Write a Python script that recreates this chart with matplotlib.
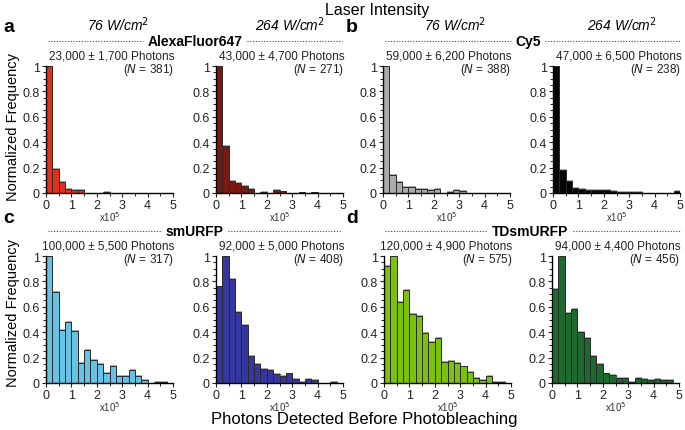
import numpy as np
import matplotlib
matplotlib.use("Agg")
import matplotlib.pyplot as plt
import matplotlib.patheffects as pe
from matplotlib.ticker import MultipleLocator
from matplotlib.lines import Line2D

plt.rcParams['font.family'] = ['Liberation Sans', 'DejaVu Sans']

# Histogramm-Daten (Bins 0.25 x10^5 breit, 0..5)
bin_kanten = np.arange(0, 5.01, 0.25)

alexa_76 = [1.0, 0.19, 0.085, 0.03, 0.02, 0.02, 0, 0, 0, 0.01, 0, 0, 0, 0, 0, 0, 0, 0, 0, 0]
alexa_264 = [1.0, 0.37, 0.095, 0.08, 0.055, 0.03, 0, 0.01, 0, 0.02, 0.012, 0, 0, 0.004, 0, 0.004, 0, 0, 0, 0]
cy5_76 = [1.0, 0.14, 0.085, 0.045, 0.045, 0.035, 0.03, 0.025, 0.028, 0, 0.008, 0.022, 0.015, 0, 0, 0, 0, 0, 0, 0]
cy5_264 = [1.0, 0.18, 0.095, 0.04, 0.03, 0.02, 0.02, 0.02, 0.022, 0.015, 0.01, 0.005, 0.005, 0.005, 0.003, 0.003, 0.003, 0.003, 0.003, 0.013]
smurfp_76 = [1.0, 0.72, 0.42, 0.48, 0.41, 0.16, 0.26, 0.18, 0.15, 0.08, 0.135, 0.055, 0.055, 0.105, 0.055, 0.02, 0, 0.01, 0.01, 0]
smurfp_264 = [0.76, 1.0, 0.82, 0.56, 0.46, 0.21, 0.15, 0.11, 0.10, 0.07, 0.055, 0.075, 0.03, 0.01, 0.03, 0.02, 0, 0, 0.01, 0]
tdsmurfp_76 = [0.92, 1.0, 0.64, 0.73, 0.54, 0.53, 0.39, 0.32, 0.355, 0.165, 0.175, 0.155, 0.13, 0.09, 0.04, 0.025, 0.055, 0.01, 0.01, 0]
tdsmurfp_264 = [0.74, 1.0, 0.55, 0.585, 0.40, 0.355, 0.21, 0.15, 0.075, 0.06, 0.04, 0.04, 0.01, 0.04, 0.03, 0.025, 0.03, 0.02, 0.02, 0]

photonen_text = ["23,000 ± 1,700 Photons", "43,000 ± 4,700 Photons",
                 "59,000 ± 6,200 Photons", "47,000 ± 6,500 Photons",
                 "100,000 ± 5,500 Photons", "92,000 ± 5,000 Photons",
                 "120,000 ± 4,900 Photons", "94,000 ± 4,400 Photons"]
n_werte = [381, 271, 388, 238, 317, 408, 575, 456]
farben = ["#E2301C", "#7A1812", "#ABABAB", "#050505",
          "#66C3E6", "#3536A0", "#7CC20C", "#1C6A2E"]
daten = [alexa_76, alexa_264, cy5_76, cy5_264, smurfp_76, smurfp_264, tdsmurfp_76, tdsmurfp_264]

W, H = 685, 431
fig = plt.figure(figsize=(6.85, 4.31), dpi=100)

# Achsenpositionen in Pixeln (links, oben)
links_px = [46, 216, 383, 553, 46, 216, 384, 552]
oben_px = [67, 67, 67, 67, 257, 257, 257, 257]
breite_px, hoehe_px = 127, 127

schatten = [pe.SimplePatchShadow(offset=(0.7, 0.7), shadow_rgbFace="#999999", alpha=0.8), pe.Normal()]

for i in range(8):
    ax = fig.add_axes([links_px[i] / W, 1 - (oben_px[i] + hoehe_px) / H, breite_px / W, hoehe_px / H])
    balken = ax.bar(bin_kanten[:-1], daten[i], width=0.25, align="edge", color=farben[i],
                    edgecolor="#2a2a2a", linewidth=0.7)
    for b in balken:
        b.set_path_effects(schatten)
    ax.set_xlim(0, 5)
    ax.set_ylim(0, 1)
    ax.spines["top"].set_visible(False)
    ax.spines["right"].set_visible(False)
    ax.spines["left"].set_linewidth(1.0)
    ax.spines["bottom"].set_linewidth(1.0)
    ax.set_xticks([0, 1, 2, 3, 4, 5])
    ax.set_yticks([0, 0.2, 0.4, 0.6, 0.8, 1])
    ax.set_yticklabels(["0", "0.2", "0.4", "0.6", "0.8", "1"])
    ax.yaxis.set_minor_locator(MultipleLocator(0.05))
    ax.xaxis.set_minor_locator(MultipleLocator(0.5))
    ax.tick_params(axis="both", which="major", labelsize=9, length=3, width=0.8, pad=1.5, colors="#222")
    ax.tick_params(axis="both", which="minor", length=2, width=0.6)
    ax.text(0.5, -0.18, "x10$^5$", transform=ax.transAxes, ha="center", va="center", fontsize=7, color="#333")
    ax.text(1.01, 1.085, photonen_text[i], transform=ax.transAxes, ha="right", va="center", fontsize=8.5, color="#222")
    ax.text(1.01, 0.98, "($N$ = %d)" % n_werte[i], transform=ax.transAxes, ha="right", va="center", fontsize=8.5, color="#222")


def fig_text(x, y, s, **kw):
    fig.text(x / W, 1 - y / H, s, **kw)


def gruppen_kopf(x0, x1, xm, y, name, halbbreite):
    fig_text(xm, y, name, ha="center", va="center", fontsize=10, fontweight="bold")
    for a, b in [(x0, xm - halbbreite), (xm + halbbreite, x1)]:
        fig.add_artist(Line2D([a / W, b / W], [1 - y / H, 1 - y / H], linestyle=(0, (1, 1.5)),
                              color="#444", linewidth=0.8))


fig_text(377, 10, "Laser Intensity", ha="center", va="center", fontsize=11.5)
fig_text(118, 25, "76 W/cm$^2$", ha="center", va="center", fontsize=10, style="italic")
fig_text(290, 25, "264 W/cm$^2$", ha="center", va="center", fontsize=10, style="italic")
fig_text(455, 25, "76 W/cm$^2$", ha="center", va="center", fontsize=10, style="italic")
fig_text(622, 25, "264 W/cm$^2$", ha="center", va="center", fontsize=10, style="italic")

gruppen_kopf(48, 342, 195, 42, "AlexaFluor647", 52)
gruppen_kopf(385, 680, 528, 42, "Cy5", 17)
gruppen_kopf(48, 342, 195, 232, "smURFP", 33)
gruppen_kopf(385, 680, 530, 232, "TDsmURFP", 43)

for s, x, y in [("a", 9, 28), ("b", 352, 28), ("c", 9, 219), ("d", 352, 219)]:
    fig_text(x, y, s, ha="center", va="center", fontsize=14, fontweight="bold")

fig_text(13, 127, "Normalized Frequency", ha="center", va="center", fontsize=10.5, rotation=90)
fig_text(13, 313, "Normalized Frequency", ha="center", va="center", fontsize=10.5, rotation=90)
fig_text(364, 420, "Photons Detected Before Photobleaching", ha="center", va="center", fontsize=12)

fig.savefig("out.png", dpi=100)
